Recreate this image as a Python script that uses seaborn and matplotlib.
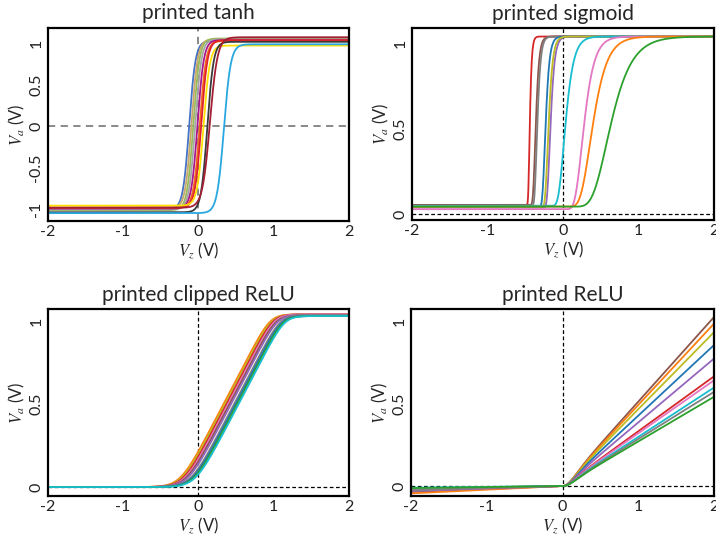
import numpy as np
import pandas as pd
import matplotlib
matplotlib.use("Agg")
import matplotlib.pyplot as plt
import seaborn as sns

# ---------------------------------------------------------------------------
# Measured transfer characteristics of printed activation circuits.
# Each curve is described by the fitted parameters of its activation model.
# ---------------------------------------------------------------------------

# printed tanh: centre voltage, gain, low and high output rails
tanh_colors = ["#4472C4", "#C9A66B", "#9BBB59", "#A5A5A5", "#A8168C", "#F26B1D",
               "#E0202A", "#FFE000", "#3A3A3A", "#A31F34", "#29A8E0"]
tanh_center = [-0.12, -0.09, -0.065, -0.04, -0.01, 0.02, 0.04, 0.07, 0.12, 0.155, 0.34]
tanh_gain = [12, 12, 12, 12, 12, 12, 12, 12, 12, 10, 11]
tanh_low = [-1.00, -0.99, -1.01, -1.00, -0.99, -0.98, -0.98, -0.955, -1.035, -0.98, -1.045]
tanh_high = [1.03, 1.05, 1.06, 1.05, 1.04, 1.03, 1.04, 0.975, 1.02, 1.075, 0.99]

# printed sigmoid: half-swing voltage, gain, low and high output levels
sig_colors = ["#d62728", "#8c564b", "#7f7f7f", "#1f77b4", "#9467bd",
              "#bcbd22", "#17becf", "#e377c2", "#ff7f0e", "#2ca02c"]
sig_center = [-0.44, -0.36, -0.34, -0.23, -0.165, -0.19, 0.035, 0.28, 0.40, 0.64]
sig_gain = [60, 35, 35, 30, 28, 28, 14, 11, 8, 5.4]
sig_low = [0.055, 0.055, 0.05, 0.045, 0.04, 0.045, 0.05, 0.03, 0.045, 0.045]
sig_high = [1.04, 1.04, 1.04, 1.04, 1.04, 1.04, 1.04, 1.04, 1.04, 1.04]

# printed clipped ReLU: onset voltage, slope, saturation level
crelu_colors = ["#ff7f0e", "#bcbd22", "#d62728", "#e377c2", "#8c564b",
                "#9467bd", "#7f7f7f", "#1f77b4", "#2ca02c", "#17becf"]
crelu_onset = [-0.24, -0.22, -0.20, -0.18, -0.16, -0.14, -0.10, -0.08, -0.06, -0.04]
crelu_slope = [0.87, 0.87, 0.87, 0.87, 0.87, 0.87, 0.87, 0.87, 0.87, 0.87]
crelu_top = [1.04, 1.04, 1.04, 1.04, 1.035, 1.035, 1.035, 1.03, 1.03, 1.03]

# printed ReLU: positive slope, leakage slope for negative inputs
relu_colors = ["#8c564b", "#ff7f0e", "#bcbd22", "#1f77b4", "#9467bd",
               "#d62728", "#e377c2", "#17becf", "#7f7f7f", "#2ca02c"]
relu_slope = [0.495, 0.471, 0.460, 0.419, 0.372, 0.323, 0.313, 0.294, 0.274, 0.265]
relu_leak = [0.018, 0.022, 0.007, 0.009, 0.015, 0.010, 0.008, 0.005, 0.012, 0.006]

vz = np.linspace(-2, 2, 801)


def softplus(u, beta):
    return np.logaddexp(0.0, beta * u) / beta


def tanh_model(x, c, k, lo, hi):
    return lo + (hi - lo) * 0.5 * (1.0 + np.tanh(k * (x - c)))


def sigmoid_model(x, c, k, lo, hi):
    s = np.exp(-np.log(2.0) * np.exp(-k * (x - c)))
    return lo + (hi - lo) * s


def clipped_relu_model(x, x0, g, top):
    u = g * (x - x0)
    return softplus(u, 12.0) - softplus(u - top, 16.0)


def relu_model(x, s, n):
    # leaky linear branch below zero, smooth knee into the linear branch above
    pos = s * np.where(x > 0, x * np.tanh(6.0 * x), 0.0)
    return n * x + pos


def frame(curves):
    rows = []
    for i, y in enumerate(curves):
        rows.append(pd.DataFrame({"vz": vz, "va": y, "curve": i}))
    return pd.concat(rows, ignore_index=True)


tanh_df = frame([tanh_model(vz, c, k, lo, hi) for c, k, lo, hi in
                 zip(tanh_center, tanh_gain, tanh_low, tanh_high)])
sig_df = frame([sigmoid_model(vz, c, k, lo, hi) for c, k, lo, hi in
                zip(sig_center, sig_gain, sig_low, sig_high)])
crelu_df = frame([clipped_relu_model(vz, x0, g, t) for x0, g, t in
                  zip(crelu_onset, crelu_slope, crelu_top)])
relu_df = frame([relu_model(vz, s, n) for s, n in zip(relu_slope, relu_leak)])

sns.set_theme(style="white")
plt.rcParams["font.family"] = ["Lato", "DejaVu Sans"]
plt.rcParams["mathtext.fontset"] = "stix"
plt.rcParams["axes.unicode_minus"] = False

W, H = 716, 542
fig = plt.figure(figsize=(W / 100, H / 100), dpi=100)


def add_axes(l, r, t, b):
    return fig.add_axes([l / W, 1 - b / H, (r - l) / W, (b - t) / H])


panels = [
    dict(box=(47.5, 349, 27.7, 221), df=tanh_df, colors=tanh_colors, title="printed tanh",
         ylim=(-1.14, 1.19), yticks=[-1, -0.5, 0, 0.5, 1],
         ylabels=["-1", "-0.5", "0", "0.5", "1"], guide="#808080", gls=(0, (4, 3)), glw=1.3),
    dict(box=(412, 714.3, 28.3, 220), df=sig_df, colors=sig_colors, title="printed sigmoid",
         ylim=(-0.033, 1.088), yticks=[0, 0.5, 1], ylabels=["0", "0.5", "1"],
         guide="black", gls=(0, (3, 2)), glw=0.9),
    dict(box=(47.7, 349, 309, 495.7), df=crelu_df, colors=crelu_colors,
         title="printed clipped ReLU", ylim=(-0.052, 1.072), yticks=[0, 0.5, 1],
         ylabels=["0", "0.5", "1"], guide="black", gls=(0, (3, 2)), glw=0.9),
    dict(box=(411, 714.3, 309.3, 496), df=relu_df, colors=relu_colors, title="printed ReLU",
         ylim=(-0.06, 1.071), yticks=[0, 0.5, 1], ylabels=["0", "0.5", "1"],
         guide="black", gls=(0, (3, 2)), glw=0.9),
]

for p in panels:
    ax = add_axes(*p["box"])
    ax.axvline(0, color=p["guide"], ls=p["gls"], lw=p["glw"], zorder=1)
    ax.axhline(0, color=p["guide"], ls=p["gls"], lw=p["glw"], zorder=1)
    sns.lineplot(data=p["df"], x="vz", y="va", hue="curve", palette=p["colors"],
                 estimator=None, legend=False, linewidth=1.3, ax=ax, zorder=2)
    ax.set_xlim(-2, 2)
    ax.set_ylim(*p["ylim"])
    ax.set_xticks([-2, -1, 0, 1, 2])
    ax.set_xticklabels(["-2", "-1", "0", "1", "2"])
    ax.set_yticks(p["yticks"])
    ax.set_yticklabels(p["ylabels"], rotation=90, va="center")
    ax.tick_params(axis="both", length=0, labelsize=11.5, pad=3, colors="#222222")
    ax.set_title(p["title"], fontsize=15, pad=6)
    ax.set_xlabel(r"$V_z$ (V)", fontsize=12, labelpad=1)
    ax.set_ylabel(r"$V_a$ (V)", fontsize=12, labelpad=2)
    for sp in ax.spines.values():
        sp.set_visible(True)
        sp.set_color("black")
        sp.set_linewidth(1.6)

fig.savefig("out.png", dpi=100)
